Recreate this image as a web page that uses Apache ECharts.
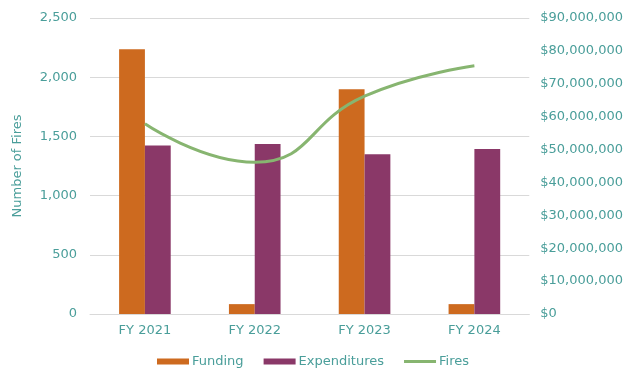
<!DOCTYPE html>
<html><head><meta charset="utf-8">
<script src="https://cdn.jsdelivr.net/npm/echarts@6/dist/echarts.min.js"></script>
<style>html,body{margin:0;padding:0;background:#fff}#c{width:626px;height:372px}</style>
</head><body><div id="c"></div>
<script>
const categories = ['FY 2021', 'FY 2022', 'FY 2023', 'FY 2024'];
const funding = [80500000, 3000000, 68300000, 3000000];
const expenditures = [51200000, 51700000, 48600000, 50200000];
const fires = [1606, 1282, 1840, 2097];
const leftTicks = {min: 0, max: 2500, interval: 500};
const rightTicks = {min: 0, max: 90000000, interval: 10000000};

const txt = '#4a9e9a';
const font = 'DejaVu Sans';
const chart = echarts.init(document.getElementById('c'));
chart.setOption({
  animation: false,
  textStyle: {fontFamily: font},
  grid: {left: 90, right: 96, top: 18, bottom: 58},
  legend: {
    top: 355, left: 'center', padding: 0, itemWidth: 32, itemHeight: 6, itemGap: 20,
    textStyle: {color: txt, fontSize: 13, fontFamily: font, padding: [0,0,0,-2]},
    data: [{name:'Funding', icon:'rect'}, {name:'Expenditures', icon:'rect'},
           {name:'Fires', icon:'path://M0,0H32V3H0Z', itemStyle: {color: '#87b570'}}]
  },
  xAxis: {
    type: 'category', data: categories,
    axisLine: {lineStyle: {color: '#d9d9d9'}},
    axisTick: {show: false},
    axisLabel: {color: txt, fontSize: 13, fontFamily: font, margin: 10}
  },
  yAxis: [{
    type: 'value', min: leftTicks.min, max: leftTicks.max, interval: leftTicks.interval,
    name: 'Number of Fires', nameLocation: 'middle', nameGap: 66, nameRotate: 90,
    nameTextStyle: {color: txt, fontSize: 13, fontFamily: font},
    axisLine: {show: false}, axisTick: {show: false},
    splitLine: {lineStyle: {color: '#d9d9d9'}},
    axisLabel: {color: txt, fontSize: 13, fontFamily: font, margin: 13,
      formatter: v => v.toLocaleString('en-US')}
  }, {
    type: 'value', min: rightTicks.min, max: rightTicks.max, interval: rightTicks.interval,
    axisLine: {show: false}, axisTick: {show: false}, splitLine: {show: false},
    axisLabel: {color: txt, fontSize: 13, fontFamily: font, margin: 11,
      formatter: v => '$' + v.toLocaleString('en-US')}
  }],
  series: [
    {name: 'Funding', type: 'bar', yAxisIndex: 1, data: funding, barGap: '0%', barCategoryGap: '53%',
      itemStyle: {color: '#cd6a1f'}},
    {name: 'Expenditures', type: 'bar', yAxisIndex: 1, data: expenditures,
      itemStyle: {color: '#8a3868'}},
    {name: 'Fires', type: 'line', yAxisIndex: 0, data: fires, smooth: 0.5, symbol: 'none',
      lineStyle: {color: '#87b570', width: 3}, itemStyle: {color: '#87b570'}}
  ]
});
</script></body></html>
